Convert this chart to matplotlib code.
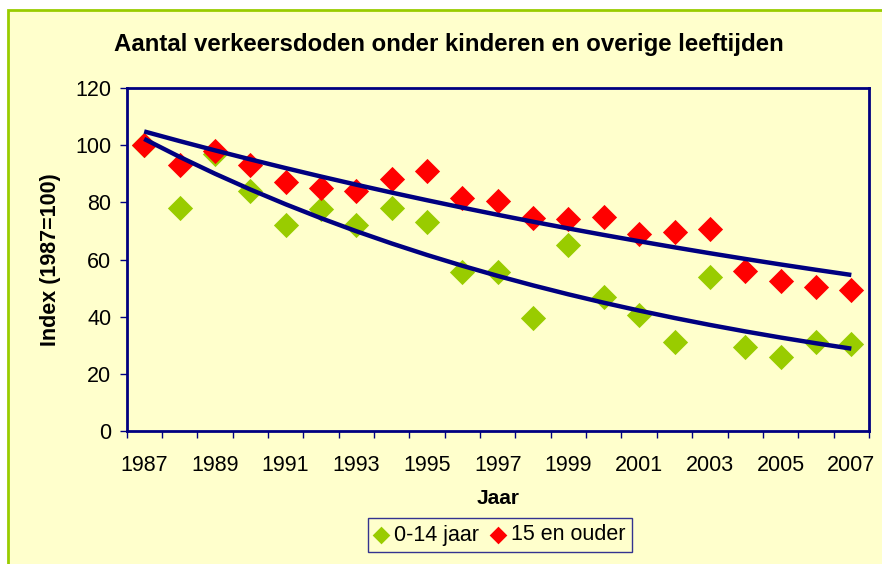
import matplotlib
matplotlib.use("Agg")
import matplotlib.pyplot as plt
import numpy as np
from matplotlib.patches import Rectangle

plt.rcParams["font.family"] = ["Liberation Sans", "DejaVu Sans"]

years = list(range(1987, 2008))
kids = [100, 78, 97, 84, 72, 77.5, 72, 78, 73, 55.5, 55.5, 39.5, 65, 47, 40.5, 31, 54, 29.5, 26, 31, 30.5]
adults = [100, 93, 98, 93, 87, 85, 84, 88, 91, 81.5, 80.5, 74.5, 74, 75, 69, 69.5, 70.5, 56, 52.5, 50.5, 49.5]

BG = "#FFFFCC"
NAVY = "#000080"
GREEN = "#99CC00"
RED = "#FF0000"

fig = plt.figure(figsize=(8.82, 5.64), dpi=100)
fig.patch.set_facecolor("white")
# chart area with green border (bleeds off right/bottom edge)
fig.patches.append(Rectangle((8 / 882, -0.05), 1.0, 1 - 10 / 564 + 0.05,
                             transform=fig.transFigure, facecolor=BG,
                             edgecolor=GREEN, linewidth=2, zorder=-1))

ax = fig.add_axes([126.5 / 882, 1 - 431 / 564, (869 - 126.5) / 882, (431 - 88) / 564])
ax.set_facecolor(BG)

x = np.arange(1, len(years) + 1)
ax.scatter(x, kids, marker="D", s=165, color=GREEN, label="0-14 jaar", zorder=2, linewidths=0)
ax.scatter(x, adults, marker="D", s=165, color=RED, label="15 en ouder", zorder=2, linewidths=0)

# exponential trendlines (Excel style)
for vals in (kids, adults):
    b, a = np.polyfit(x, np.log(vals), 1)
    ax.plot(x, np.exp(a + b * x), color=NAVY, linewidth=3.2, zorder=3,
            solid_capstyle="butt")

ax.set_xlim(0.5, len(years) + 0.5)
ax.set_ylim(0, 120)
ax.set_yticks(range(0, 121, 20))
ax.set_xticks(x[::2])
ax.set_xticklabels([str(y) for y in years[::2]])
ax.set_xticks(np.arange(0.5, len(years) + 1, 1), minor=True)

for s in ax.spines.values():
    s.set_color(NAVY)
    s.set_linewidth(2)
ax.tick_params(axis="y", colors=NAVY, length=5, width=1, labelsize=15.5, labelcolor="black", pad=6)
ax.tick_params(axis="x", which="major", length=0, labelsize=15.5, labelcolor="black", pad=17)
ax.tick_params(axis="x", which="minor", colors=NAVY, length=5, width=1)

ax.set_xlabel("Jaar", fontsize=15, fontweight="bold", labelpad=10)
ax.set_ylabel("Index (1987=100)", fontsize=15.5, fontweight="bold", labelpad=10)
fig.text(449 / 882, 1 - 45 / 564, "Aantal verkeersdoden onder kinderen en overige leeftijden",
         ha="center", va="center", fontsize=17.3, fontweight="bold")

leg = ax.legend(loc="center", bbox_to_anchor=(500 / 882, 1 - 535 / 564),
                bbox_transform=fig.transFigure, ncol=2, frameon=True, fancybox=False,
                fontsize=15.5, handlelength=0.6, handletextpad=0.3, columnspacing=0.6,
                borderpad=0.3, markerscale=0.7)
leg.get_frame().set_edgecolor(NAVY)
leg.get_frame().set_facecolor(BG)
leg.get_frame().set_linewidth(1)

fig.savefig("out.png", dpi=100, facecolor=fig.get_facecolor())
